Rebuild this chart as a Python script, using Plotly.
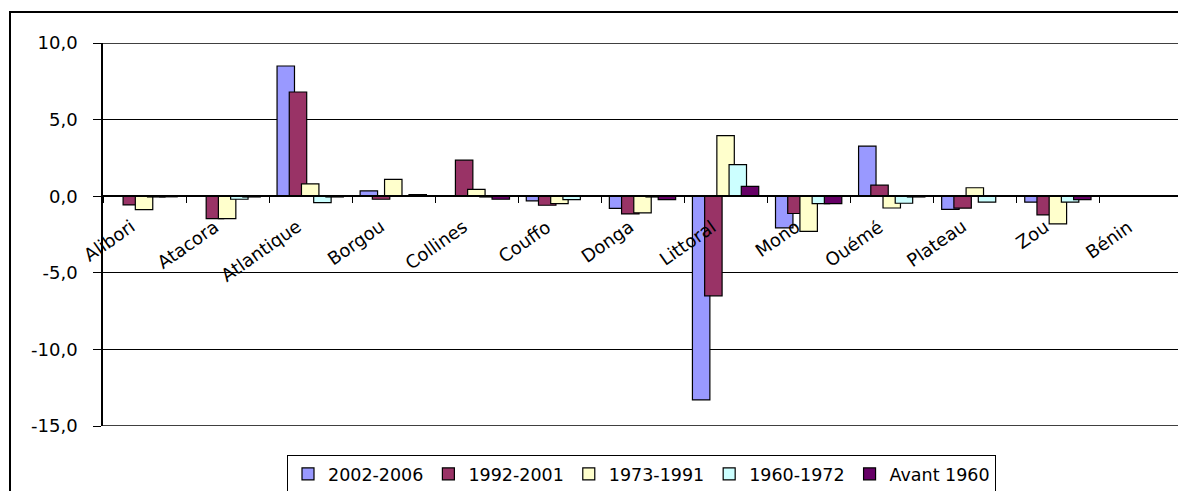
import plotly.graph_objects as go

categories = ["Alibori", "Atacora", "Atlantique", "Borgou", "Collines", "Couffo",
              "Donga", "Littoral", "Mono", "Ouémé", "Plateau", "Zou", "Bénin"]

series_names = ["2002-2006", "1992-2001", "1973-1991", "1960-1972", "Avant 1960"]

s_2002_2006 = [0, 0, 8.5, 0.35, 0, -0.3, -0.8, -13.3, -2.07, 3.27, -0.86, -0.39, None]
s_1992_2001 = [-0.57, -1.46, 6.8, -0.2, 2.35, -0.59, -1.16, -6.5, -1.13, 0.72, -0.78, -1.22, None]
s_1973_1991 = [-0.87, -1.46, 0.81, 1.1, 0.44, -0.48, -1.09, 3.95, -2.29, -0.77, 0.55, -1.81, None]
s_1960_1972 = [-0.05, -0.2, -0.42, 0.03, -0.05, -0.22, -0.05, 2.06, -0.48, -0.46, -0.39, -0.39, None]
s_avant_1960 = [-0.04, -0.05, -0.05, 0.11, -0.2, 0, -0.22, 0.64, -0.48, -0.05, 0, -0.22, None]

y_tickvals = [-15, -10, -5, 0, 5, 10]
y_ticktext = ["-15,0", "-10,0", "-5,0", "0,0", "5,0", "10,0"]

colors = ["#9999FF", "#993366", "#FFFFCC", "#CCFFFF", "#660066"]
offsets = [-0.405, -0.258, -0.111, 0.036, 0.183]
bar_width = 0.21

all_series = [s_2002_2006, s_1992_2001, s_1973_1991, s_1960_1972, s_avant_1960]

FONT = "DejaVu Sans"

# screen-pixel geometry of the plot area (page body adds an 8px offset)
PL, PR, PT, PB = 103, 1183, 43, 426
PW, PH = PR - PL, PB - PT


def px(x):
    return (x - PL) / PW


def py(y):
    return (PB - y) / PH


fig = go.Figure()
for name, vals, col, off in zip(series_names, all_series, colors, offsets):
    fig.add_trace(go.Bar(
        x=categories, y=vals, name=name,
        marker=dict(color=col, line=dict(color="black", width=1.2)),
        offset=off, width=bar_width,
    ))

fig.update_layout(
    width=1178, height=483,
    margin=dict(l=PL - 8, r=1178 - (PR - 8), t=PT - 8, b=483 - (PB - 8), autoexpand=False),
    barmode="overlay",
    plot_bgcolor="white", paper_bgcolor="white",
    font=dict(family=FONT, size=18, color="black"),
    legend=dict(
        orientation="h", x=px(287), y=py(455), xanchor="left", yanchor="top",
        bordercolor="black", borderwidth=1, bgcolor="white",
        font=dict(family=FONT, size=17.5, color="black"),
        itemwidth=30, tracegroupgap=0,
    ),
    xaxis=dict(
        type="category", range=[-0.5, 12.5],
        anchor="free", position=0.6,
        showline=True, linecolor="black", linewidth=1.5,
        ticks="outside", tickson="boundaries", ticklen=6, tickcolor="black",
        showticklabels=False, showgrid=False,
    ),
    yaxis=dict(
        range=[-15, 10], tickvals=y_tickvals, ticktext=y_ticktext,
        showline=True, linecolor="black", linewidth=1.5,
        ticks="outside", ticklen=8, tickcolor="black",
        showgrid=True, gridcolor="black", gridwidth=1,
        zeroline=False, ticklabelstandoff=12,
        tickfont=dict(family=FONT, size=18, color="black"),
    ),
)

# category labels, rotated, hanging below the zero line
for cat in categories:
    fig.add_annotation(x=cat, y=0, xref="x", yref="y", text=cat, showarrow=False,
                       textangle=-35, xanchor="right", yanchor="top",
                       xshift=-3, yshift=-17,
                       font=dict(family=FONT, size=18, color="black"))

# gridlines at the range edges
for yv in (y_tickvals[0], y_tickvals[-1]):
    fig.add_shape(type="line", xref="paper", yref="y", x0=0, x1=1, y0=yv, y1=yv,
                  line=dict(color="black", width=1.5), layer="below")

# outer chart frame
fig.add_shape(type="rect", xref="paper", yref="paper",
              x0=px(10), x1=px(1192), y0=py(500), y1=py(12),
              line=dict(color="black", width=2), fillcolor="rgba(0,0,0,0)", layer="below")

fig.write_html("out.html")
